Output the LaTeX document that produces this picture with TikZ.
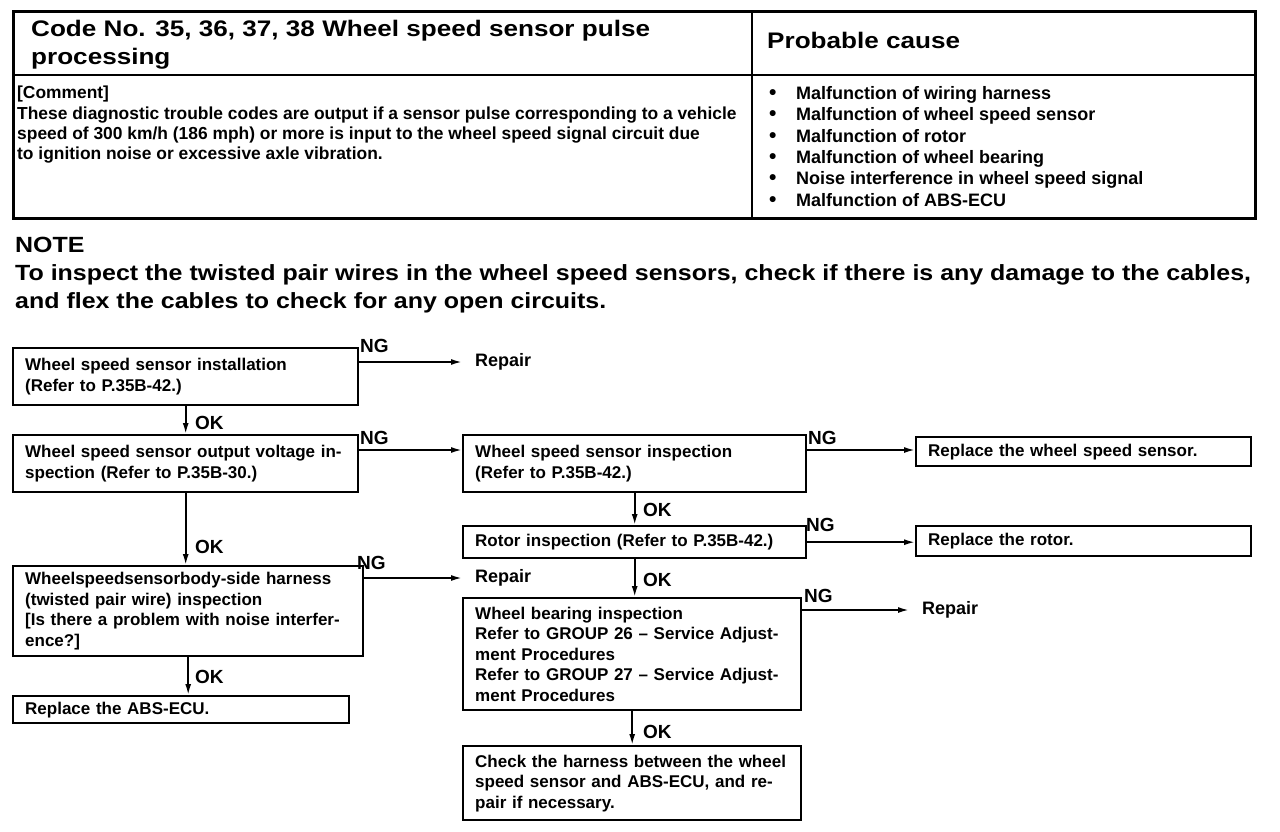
\documentclass[tikz,border=0pt]{standalone}
\usepackage{fontspec}
\setmainfont{Liberation Sans}
\newfontfamily\ttlfam[FakeStretch=1.16]{Liberation Sans}
\newfontfamily\notefam[FakeStretch=1.135]{Liberation Sans}
\usetikzlibrary{arrows.meta}
\newcommand\ttlf{\ttlfam\fontsize{22.5}{28}\selectfont\bfseries}
\newcommand\cmtf{\fontsize{17.4}{20.3}\selectfont\bfseries}
\newcommand\csf{\fontsize{18}{21.4}\selectfont\bfseries}
\newcommand\notef{\notefam\fontsize{22}{28}\selectfont\bfseries}
\newcommand\bxf{\fontsize{17}{20.6}\selectfont\bfseries}
\newcommand\repf{\fontsize{18}{20}\selectfont\bfseries}
\newcommand\lblf{\fontsize{19}{20}\selectfont\bfseries}
\newcommand\bul{\makebox[27pt][l]{\smash{\raisebox{0pt}{\fontsize{21}{0}\selectfont •}}}}
\begin{document}
\begin{tikzpicture}[x=1pt,y=-1pt,
  box/.style={draw, line width=2.4pt, anchor=north west, align=left, inner xsep=12pt, inner ysep=0pt, font=\bxf},
  txt/.style={anchor=north west, align=left, inner sep=0pt},
  lbl/.style={anchor=west, inner sep=0pt, font=\lblf},
  rep/.style={anchor=west, inner xsep=13pt, inner ysep=0pt, font=\repf},
  arr/.style={line width=1.8pt, -{Latex[length=11pt,width=6pt]}}]
\useasboundingbox (0,0) rectangle (1280,832);
\fill[white] (0,0) rectangle (1280,832);
% table
\draw[line width=3pt] (13,12) rectangle (1255,218);
\draw[line width=2pt] (752,12) -- (752,218);
\draw[line width=2pt] (13,75) -- (1255,75);
\node[txt, font=\ttlf] (title) at (31,20) {Code No. 35, 36, 37, 38 Wheel speed sensor pulse\\processing};
\node[txt, font=\ttlf] (pc) at (767,32) {Probable cause};
\node[txt, font=\cmtf] (cmt) at (17,86) {[Comment]\\These diagnostic trouble codes are output if a sensor pulse corresponding to a vehicle\\speed of 300 km/h (186 mph) or more is input to the wheel speed signal circuit due\\to ignition noise or excessive axle vibration.};
\node[txt, font=\csf] (causes) at (769,86) {\bul Malfunction of wiring harness\\
\bul Malfunction of wheel speed sensor\\
\bul Malfunction of rotor\\
\bul Malfunction of wheel bearing\\
\bul Noise interference in wheel speed signal\\
\bul Malfunction of ABS-ECU};
% note
\node[txt, font=\notef] (note) at (15,237) {NOTE\\To inspect the twisted pair wires in the wheel speed sensors, check if there is any damage to the cables,\\and flex the cables to check for any open circuits.};
% boxes
\node[box, text width=321pt, minimum height=57pt] (b1) at (12,347) {Wheel speed sensor installation\\(Refer to P.35B-42.)};
\node[box, text width=321pt, minimum height=57pt] (b2) at (12,434) {Wheel speed sensor output voltage in-\\spection (Refer to P.35B-30.)};
\node[box, text width=319pt, minimum height=57pt] (b3) at (462,434) {Wheel speed sensor inspection\\(Refer to P.35B-42.)};
\node[box, text width=311pt, minimum height=29pt] (b4) at (915,436) {Replace the wheel speed sensor.};
\node[box, text width=319pt, minimum height=32pt] (b5) at (462,525) {Rotor inspection (Refer to P.35B-42.)};
\node[box, text width=311pt, minimum height=30pt] (b6) at (915,525) {Replace the rotor.};
\node[box, text width=326pt, minimum height=90pt] (b7) at (12,565) {Wheelspeedsensorbody-side harness\\(twisted pair wire) inspection\\{}[Is there a problem with noise interfer-\\ence?]};
\node[box, text width=312pt, minimum height=27pt] (b8) at (12,695) {Replace the ABS-ECU.};
\node[box, text width=314pt, minimum height=112pt] (b9) at (462,597) {Wheel bearing inspection\\Refer to GROUP 26 -- Service Adjust-\\ment Procedures\\Refer to GROUP 27 -- Service Adjust-\\ment Procedures};
\node[box, text width=314pt, minimum height=74pt] (b10) at (462,745) {Check the harness between the wheel\\speed sensor and ABS-ECU, and re-\\pair if necessary.};
% repair targets
\node[rep] (r1) at (462,362) {Repair};
\node[rep] (r2) at (462,578) {Repair};
\node[rep] (r3) at (909,610) {Repair};
% connectors
\coordinate (p1) at ([yshift=-15pt]b1.north east);
\coordinate (p2) at ([yshift=-16pt]b2.north east);
\coordinate (p3) at ([yshift=-16pt]b3.north east);
\coordinate (p7) at ([yshift=-13pt]b7.north east);
\coordinate (p9) at ([yshift=-13pt]b9.north east);
\draw[arr] (p1) -- (r1.west);
\draw[arr] (p2) -- (p2 -| b3.west);
\draw[arr] (p3) -- (p3 -| b4.west);
\draw[arr] (b5.east) -- (b5.east -| b6.west);
\draw[arr] (p7) -- (r2.west);
\draw[arr] (p9) -- (r3.west);
\draw[arr] (b1.south) -- (b1.south |- b2.north);
\draw[arr] (b2.south) -- (b2.south |- b7.north);
\draw[arr] (b7.south) -- (b7.south |- b8.north);
\draw[arr] (b3.south) -- (b3.south |- b5.north);
\draw[arr] (b5.south) -- (b5.south |- b9.north);
\draw[arr] (b9.south) -- (b9.south |- b10.north);
% labels
\node[lbl] (ng1) at (360,346) {NG};
\node[lbl] (ng2) at (360,438) {NG};
\node[lbl] (ng3) at (808,438) {NG};
\node[lbl] (ng4) at (806,525) {NG};
\node[lbl] (ng5) at (357,563) {NG};
\node[lbl] (ng6) at (804,596) {NG};
\node[lbl] (ok1) at (195,423) {OK};
\node[lbl] (ok2) at (195,547) {OK};
\node[lbl] (ok3) at (195,677) {OK};
\node[lbl] (ok4) at (643,510) {OK};
\node[lbl] (ok5) at (643,580) {OK};
\node[lbl] (ok6) at (643,732) {OK};
\end{tikzpicture}
\end{document}
